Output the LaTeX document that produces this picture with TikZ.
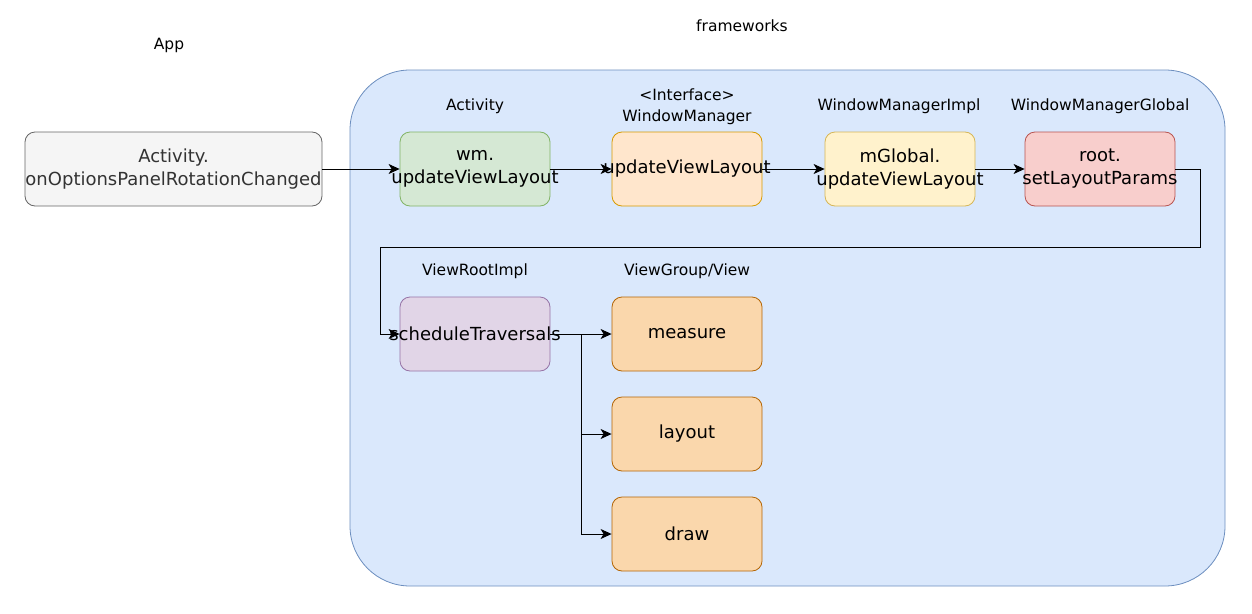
\documentclass[tikz,border=0pt]{standalone}
\usepackage{fontspec}
\setmainfont{DejaVu Sans}
\usetikzlibrary{arrows.meta,positioning}
\definecolor{fwfill}{HTML}{DAE8FC}
\definecolor{fwline}{HTML}{6C8EBF}
\definecolor{appfill}{HTML}{F5F5F5}
\definecolor{appline}{HTML}{666666}
\definecolor{apptext}{HTML}{333333}
\definecolor{actfill}{HTML}{D5E8D4}
\definecolor{actline}{HTML}{82B366}
\definecolor{ifcfill}{HTML}{FFE6CC}
\definecolor{ifcline}{HTML}{D79B00}
\definecolor{implfill}{HTML}{FFF2CC}
\definecolor{implline}{HTML}{D6B656}
\definecolor{globfill}{HTML}{F8CECC}
\definecolor{globline}{HTML}{B85450}
\definecolor{vrifill}{HTML}{E1D5E7}
\definecolor{vriline}{HTML}{9673A6}
\definecolor{viewfill}{HTML}{FAD7AC}
\definecolor{viewline}{HTML}{B46504}
\newcommand{\spill}[1]{\makebox[0pt]{#1}}

\begin{document}
\begin{tikzpicture}[
    x=1pt, y=-1pt,
    box/.style={draw, rounded corners=10pt, minimum width=150pt, minimum height=74pt,
        inner xsep=0pt, align=center, line width=0.8pt, font=\fontsize{18}{23}\selectfont},
    title/.style={align=center, font=\fontsize{15.5}{21}\selectfont},
    link/.style={-{Stealth[length=11pt,width=10pt,inset=3pt]}, line width=1pt},
]
    \useasboundingbox (0,0) rectangle (1252,613);
    \node[title] (app) at (169,45) {App};
    \node[title] (frameworks) at (742,26) {frameworks};
    \node[draw=fwline, fill=fwfill, line width=0.8pt, rounded corners=60pt,
        minimum width=875pt, minimum height=516pt] (fw) at (787.5,328) {};

    \node[box, fill=appfill, draw=appline, text=apptext, minimum width=297pt] (act)
        at (173.5,169) {\spill{Activity.}\\\spill{onOptionsPanelRotationChanged}};

    \node[title] (actlbl) at (475,106) {Activity};
    \node[box, fill=actfill, draw=actline] (wm) at (475,169) {\spill{wm.}\\\spill{updateViewLayout}};
    \node[title] (ifclbl) at (687,107) {<Interface>\\WindowManager};
    \node[box, fill=ifcfill, draw=ifcline] (ifc) at (687,169) {\spill{updateViewLayout}};
    \node[title] (impllbl) at (899,106) {WindowManagerImpl};
    \node[box, fill=implfill, draw=implline] (impl) at (900,169) {\spill{mGlobal.}\\\spill{updateViewLayout}};
    \node[title] (globlbl) at (1100,106) {WindowManagerGlobal};
    \node[box, fill=globfill, draw=globline] (glob) at (1100,169) {\spill{root.}\\\spill{setLayoutParams}};

    \node[title] (vrilbl) at (475,271) {ViewRootImpl};
    \node[box, fill=vrifill, draw=vriline] (vri) at (475,334) {\spill{scheduleTraversals}};
    \node[title] (viewlbl) at (687,271) {ViewGroup/View};
    \foreach \name/\y in {measure/334, layout/434, draw/534}
        \node[box, fill=viewfill, draw=viewline] (\name) at (687,\y) {\name};

    \draw[link] (act) -- (wm);
    \draw[link] (wm) -- (ifc);
    \draw[link] (ifc) -- (impl);
    \draw[link] (impl) -- (glob);
    \coordinate (turn) at (380,247);
    \draw[link] (glob.east) -- ++(25,0) |- (turn) |- (vri.west);
    \coordinate (split) at (581,334);
    \draw[link] (vri) -- (measure);
    \foreach \name in {layout, draw}
        \draw[link] (split) |- (\name);
\end{tikzpicture}
\end{document}
